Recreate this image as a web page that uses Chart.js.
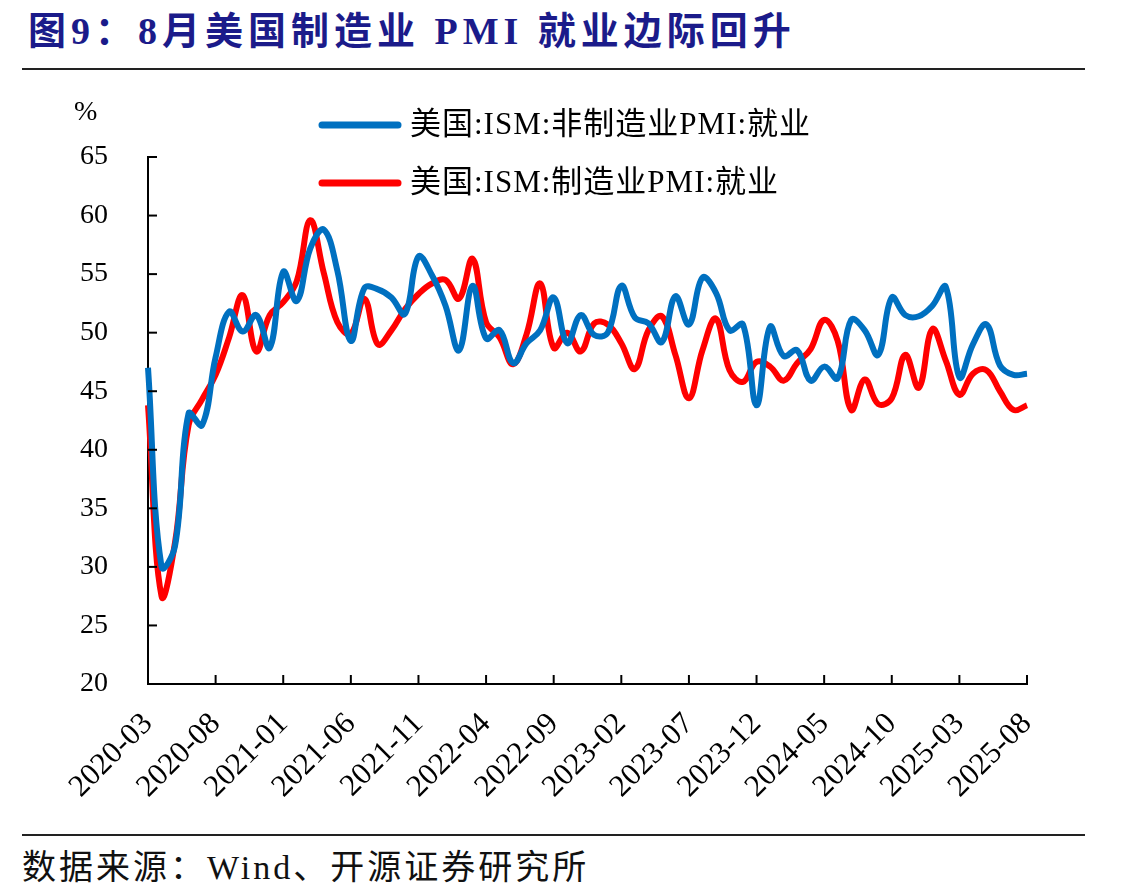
<!DOCTYPE html>
<html>
<head>
<meta charset="utf-8">
<script src="https://cdn.jsdelivr.net/npm/chart.js@4"></script>
<style>
  body { margin: 0; background: #fff; width: 1137px; height: 895px; position: relative; overflow: hidden; }
  #title { position: absolute; left: 28px; top: 0px; font: bold 38px "Liberation Serif", "Noto Sans CJK SC"; color: #1B1B8A; letter-spacing: 5px; white-space: nowrap; }
  .rule { position: absolute; left: 22px; width: 1063px; height: 2px; background: #222; }
  #source { position: absolute; left: 22px; top: 840px; font: 34px "Liberation Serif", "Noto Sans CJK SC"; color: #111; letter-spacing: 3px; white-space: nowrap; }
  #wrap { position: absolute; left: 0; top: 75px; width: 1137px; height: 755px; }
</style>
</head>
<body>
<div id="title">图9：8月美国制造业 PMI 就业边际回升</div>
<div class="rule" style="top:68px"></div>
<div id="wrap"><canvas id="lineChart"></canvas></div>
<div class="rule" style="top:834px"></div>
<div id="source">数据来源：Wind、开源证券研究所</div>
<script>
// months 2020-03 .. 2025-08
const months = [];
for (let y = 2020, m = 3; y < 2025 || (y === 2025 && m <= 8); m++) {
  if (m > 12) { m = 1; y++; }
  months.push(y + '-' + String(m).padStart(2, '0'));
}

const nonMfgEmployment = [
  47.0, 30.0, 31.8, 43.1, 42.1, 47.9, 51.8, 50.1, 51.5, 48.7,
  55.2, 52.7, 57.2, 58.8, 55.3, 49.3, 53.8, 53.7, 53.0, 51.6,
  56.5, 54.9, 52.3, 48.5, 54.0, 49.5, 50.2, 47.4, 49.1, 50.2,
  53.0, 49.1, 51.5, 49.8, 50.0, 54.0, 51.3, 50.8, 49.2, 53.1,
  50.7, 54.7, 53.4, 50.2, 50.7, 43.8, 50.5, 48.0, 48.5, 45.9,
  47.1, 46.1, 51.1, 50.2, 48.1, 53.0, 51.5, 51.4, 52.3, 53.9,
  46.2, 49.0, 50.7, 47.2, 46.4, 46.5
];

const mfgEmployment = [
  43.8, 27.5, 32.1, 42.1, 44.3, 46.4, 49.6, 53.2, 48.4, 51.5,
  52.6, 54.4, 59.6, 55.1, 50.9, 49.9, 52.9, 49.0, 50.2, 52.0,
  53.3, 54.2, 54.5, 52.9, 56.3, 50.9, 49.6, 47.3, 49.9, 54.2,
  48.7, 50.0, 48.4, 50.8, 50.7, 49.1, 46.9, 50.2, 51.4, 48.1,
  44.4, 48.5, 51.2, 46.8, 45.8, 47.5, 47.1, 45.9, 47.4, 48.6,
  51.1, 49.3, 43.4, 46.0, 43.9, 44.4, 48.1, 45.3, 50.3, 47.6,
  44.7, 46.5, 46.8, 45.0, 43.4, 43.8
];

const yTicks = [20, 25, 30, 35, 40, 45, 50, 55, 60, 65];
const labelEvery = 5;

const serif = '"Liberation Serif", "Noto Sans CJK SC"';

// ticks drawn inside the axes, legend and unit inside the chart
const decorations = {
  id: 'decorations',
  afterDraw(chart) {
    const { ctx, chartArea, scales } = chart;
    ctx.save();
    ctx.strokeStyle = '#000';
    ctx.lineWidth = 2;
    scales.y.ticks.forEach((t, i) => {
      const py = scales.y.getPixelForTick(i);
      ctx.beginPath();
      ctx.moveTo(chartArea.left, py);
      ctx.lineTo(chartArea.left + 9, py);
      ctx.stroke();
    });
    months.forEach((m, i) => {
      if (i % labelEvery !== 0) return;
      const px = scales.x.getPixelForValue(i);
      ctx.beginPath();
      ctx.moveTo(px, chartArea.bottom);
      ctx.lineTo(px, chartArea.bottom - 9);
      ctx.stroke();
    });

    ctx.fillStyle = '#000';
    ctx.font = '28px ' + serif;
    ctx.textAlign = 'left';
    ctx.textBaseline = 'middle';
    ctx.fillText('%', 74, 38);

    ctx.font = '31px ' + serif;
    ctx.letterSpacing = '1px';
    chart.data.datasets.forEach((ds, i) => {
      const ly = 50 + i * 58;
      ctx.strokeStyle = ds.borderColor;
      ctx.lineWidth = 7;
      ctx.lineCap = 'round';
      ctx.beginPath();
      ctx.moveTo(322, ly);
      ctx.lineTo(398, ly);
      ctx.stroke();
      ctx.fillStyle = '#000';
      ctx.fillText(ds.label, 410, ly + 1);
    });
    ctx.restore();
  }
};

new Chart(document.getElementById('lineChart'), {
  type: 'line',
  data: {
    labels: months,
    datasets: [{
        data: nonMfgEmployment,
        label: '美国:ISM:非制造业PMI:就业',
        borderColor: '#0070C0',
        borderWidth: 6,
        pointRadius: 0,
        tension: 0.4,
        fill: false
      }, {
        data: mfgEmployment,
        label: '美国:ISM:制造业PMI:就业',
        borderColor: '#FF0000',
        borderWidth: 6,
        pointRadius: 0,
        tension: 0.4,
        fill: false
      }
    ]
  },
  options: {
    responsive: true,
    maintainAspectRatio: false,
    animation: false,
    layout: { padding: { top: 82, right: 110, left: 0, bottom: 0 } },
    plugins: {
      legend: { display: false },
      tooltip: { enabled: false }
    },
    scales: {
      x: {
        offset: false,
        grid: { drawOnChartArea: false, drawTicks: false },
        border: { color: '#000', width: 2 },
        afterFit(scale) { scale.height = 146; },
        ticks: {
          autoSkip: false,
          maxRotation: 45,
          minRotation: 45,
          padding: 22,
          color: '#000',
          font: { family: serif, size: 31 },
          callback(v, i) { return i % labelEvery === 0 ? months[i] : null; }
        }
      },
      y: {
        min: 20,
        max: 65,
        grid: { drawOnChartArea: false, drawTicks: false },
        border: { color: '#000', width: 2 },
        afterFit(scale) { scale.width = 148; },
        afterBuildTicks(scale) { scale.ticks = yTicks.map(v => ({ value: v })); },
        ticks: {
          padding: 40,
          color: '#000',
          font: { family: serif, size: 28 }
        }
      }
    }
  },
  plugins: [decorations]
});
</script>
</body>
</html>
